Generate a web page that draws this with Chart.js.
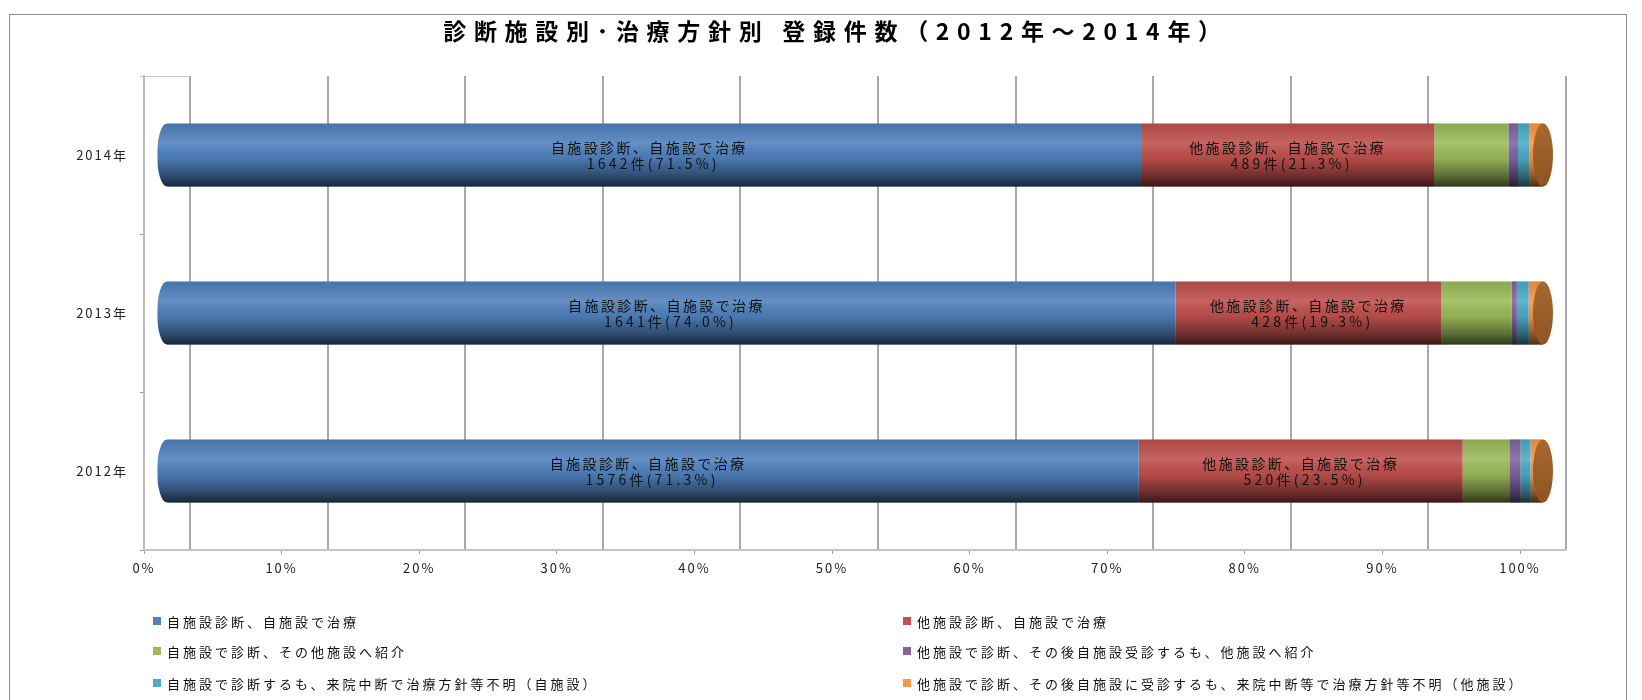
<!DOCTYPE html>
<html>
<head>
<meta charset="utf-8">
<script src="https://cdn.jsdelivr.net/npm/chart.js@4.4.1/dist/chart.umd.min.js"></script>
<style>
  html, body { margin: 0; padding: 0; background: #fff; }
</style>
</head>
<body>
<canvas id="regChart" width="1642" height="700"></canvas>
<script>
const years = ['2014年', '2013年', '2012年'];
const seriesNames = [
  '自施設診断、自施設で治療',
  '他施設診断、自施設で治療',
  '自施設で診断、その他施設へ紹介',
  '他施設で診断、その後自施設受診するも、他施設へ紹介',
  '自施設で診断するも、来院中断で治療方針等不明（自施設）',
  '他施設で診断、その後自施設に受診するも、来院中断等で治療方針等不明（他施設）'
];
const selfSelf = [1642, 1641, 1576];
const otherSelf = [489, 428, 520];
const selfReferOut = [124, 114, 75];
const otherReferOut = [16, 8, 18];
const selfDropout = [19, 19, 16];
const otherDropout = [6, 7, 4];
const pctTicks = [0, 10, 20, 30, 40, 50, 60, 70, 80, 90, 100];
const seriesColors = ['#4F81BD', '#C0504D', '#9BBB59', '#8064A2', '#4BACC6', '#F79646'];
const titleText = '診断施設別･治療方針別 登録件数（2012年～2014年）';

const counts = [selfSelf, otherSelf, selfReferOut, otherReferOut, selfDropout, otherDropout];
const totals = years.map((_, i) => counts.reduce((s, arr) => s + arr[i], 0));
const pct = counts.map(arr => arr.map((v, i) => v / totals[i] * 100));

const FONT = "'Noto Sans CJK JP', 'Noto Sans', sans-serif";
const DEPTH = 46;   // back wall sits this far right of the ticks
const SHIFT = 13;   // bars sit halfway into the depth
const CAP = 10;     // ellipse radius of the cylinder ends

Chart.defaults.font.family = FONT;

function line(ctx, x1, y1, x2, y2) {
  ctx.beginPath();
  ctx.moveTo(x1, y1);
  ctx.lineTo(x2, y2);
  ctx.stroke();
}

const cylinder = {
  id: 'cylinder',
  beforeDraw(chart) {
    // axis labels in the original are spaced out a little
    chart.ctx.letterSpacing = '2px';
  },
  beforeDatasetsDraw(chart) {
    const { ctx, chartArea: a, scales: { x } } = chart;
    ctx.letterSpacing = '0px';
    ctx.save();
    ctx.lineWidth = 2;
    ctx.strokeStyle = '#A8A8A8';
    pctTicks.forEach(v => {
      const px = Math.round(x.getPixelForValue(v)) + DEPTH;
      line(ctx, px, a.top, px, a.bottom);
    });
    ctx.strokeStyle = '#C4C4C4';
    line(ctx, a.left, a.bottom, x.getPixelForValue(100) + DEPTH + 1, a.bottom);
    ctx.lineWidth = 1;
    line(ctx, a.left - 4, a.top + 0.5, a.left + DEPTH, a.top + 0.5);
    ctx.restore();
    ctx.save();
    ctx.translate(SHIFT, 0);
  },
  afterDatasetsDraw(chart) {
    const { ctx, scales: { x } } = chart;
    const x0 = x.getPixelForValue(0);
    const x100 = x.getPixelForValue(100);
    const meta0 = chart.getDatasetMeta(0);
    meta0.data.forEach((el, i) => {
      const h = el.height;
      const top = el.y - h / 2;
      const bottom = el.y + h / 2;
      // body runs on under the end face
      ctx.fillStyle = seriesColors[seriesColors.length - 1];
      ctx.fillRect(x100 - 0.5, top, CAP + 0.5, h);
      // round shading
      const g = ctx.createLinearGradient(0, top, 0, bottom);
      g.addColorStop(0, 'rgba(0,0,0,0.10)');
      g.addColorStop(0.32, 'rgba(255,255,255,0.12)');
      g.addColorStop(0.55, 'rgba(0,0,0,0.06)');
      g.addColorStop(0.82, 'rgba(0,0,0,0.40)');
      g.addColorStop(1, 'rgba(0,0,0,0.70)');
      ctx.fillStyle = g;
      ctx.fillRect(x0, top, x100 + CAP - x0, h);
      // rounded left end
      ctx.save();
      ctx.beginPath();
      ctx.rect(x0 - 2, top - 1, CAP + 2, h + 2);
      ctx.clip();
      ctx.beginPath();
      ctx.rect(x0 - 2, top - 1, CAP + 2, h + 2);
      ctx.ellipse(x0 + CAP, el.y, CAP, h / 2, 0, 0, Math.PI * 2);
      ctx.fillStyle = '#fff';
      ctx.fill('evenodd');
      ctx.restore();
      // end face
      const fg = ctx.createLinearGradient(0, top, 0, bottom);
      fg.addColorStop(0, '#A9682F');
      fg.addColorStop(1, '#8E5424');
      ctx.beginPath();
      ctx.ellipse(x100 + CAP, el.y, CAP, h / 2, 0, 0, Math.PI * 2);
      ctx.fillStyle = fg;
      ctx.fill();
    });
    // labels inside the two big segments
    ctx.font = '14px ' + FONT;
    ctx.fillStyle = '#111';
    ctx.textAlign = 'center';
    ctx.textBaseline = 'middle';
    [0, 1].forEach(d => {
      chart.getDatasetMeta(d).data.forEach((el, i) => {
        const cx = (el.x + el.base) / 2;
        ctx.letterSpacing = '2.4px';
        ctx.fillText(seriesNames[d], cx, el.y - 7);
        ctx.letterSpacing = '3.2px';
        ctx.fillText(counts[d][i] + '件(' + pct[d][i].toFixed(1) + '%)', cx + 4, el.y + 9);
      });
    });
    ctx.letterSpacing = '0px';
    ctx.restore();
  },
  afterDraw(chart) {
    const { ctx } = chart;
    ctx.save();
    // frame
    ctx.strokeStyle = '#8C8C8C';
    ctx.lineWidth = 1;
    ctx.strokeRect(9.5, 14.5, 1617, 700);
    // title
    ctx.font = 'bold 23px ' + FONT;
    ctx.letterSpacing = '7.7px';
    ctx.fillStyle = '#000';
    ctx.textAlign = 'center';
    ctx.textBaseline = 'middle';
    ctx.fillText(titleText, 836, 31);
    // legend, two columns
    const cols = [153, 903];
    const rows = [621, 651, 683];
    ctx.font = '13px ' + FONT;
    ctx.letterSpacing = '3px';
    ctx.textAlign = 'left';
    seriesNames.forEach((name, k) => {
      const cx = cols[k % 2];
      const cy = rows[Math.floor(k / 2)];
      ctx.fillStyle = seriesColors[k];
      ctx.fillRect(cx, cy - 4, 8, 8);
      ctx.fillStyle = '#111';
      ctx.fillText(name, cx + 14, cy + 1);
    });
    ctx.letterSpacing = '0px';
    ctx.restore();
  }
};

new Chart(document.getElementById('regChart'), {
  type: 'bar',
  data: {
    labels: years,
    datasets: seriesNames.map((name, k) => ({
      label: name,
      data: pct[k],
      backgroundColor: seriesColors[k],
      borderWidth: 0,
      barPercentage: 0.4,
      categoryPercentage: 1.0,
      clip: false
    }))
  },
  options: {
    indexAxis: 'y',
    responsive: false,
    animation: false,
    layout: { padding: { top: 76, right: 122, left: 0, bottom: 0 } },
    scales: {
      x: {
        stacked: true,
        min: 0,
        max: 100,
        afterBuildTicks: s => { s.ticks = pctTicks.map(v => ({ value: v })); },
        afterFit: s => { s.height = 150; },
        ticks: { callback: v => v + '%', color: '#222', font: { size: 13 }, padding: 6, maxRotation: 0 },
        grid: { drawOnChartArea: false, tickLength: 4, color: '#999' },
        border: { display: false }
      },
      y: {
        stacked: true,
        afterFit: s => { s.width = 144; },
        ticks: { color: '#222', font: { size: 13 }, padding: 12 },
        grid: { drawOnChartArea: false, tickLength: 4, color: '#999', offset: true },
        border: { display: true, color: '#BDBDBD', width: 2 }
      }
    },
    plugins: {
      legend: { display: false },
      title: { display: false },
      tooltip: {
        callbacks: {
          label: c => c.dataset.label + ': ' + counts[c.datasetIndex][c.dataIndex] + '件(' + c.parsed.x.toFixed(1) + '%)'
        }
      }
    }
  },
  plugins: [cylinder]
});
</script>
</body>
</html>
